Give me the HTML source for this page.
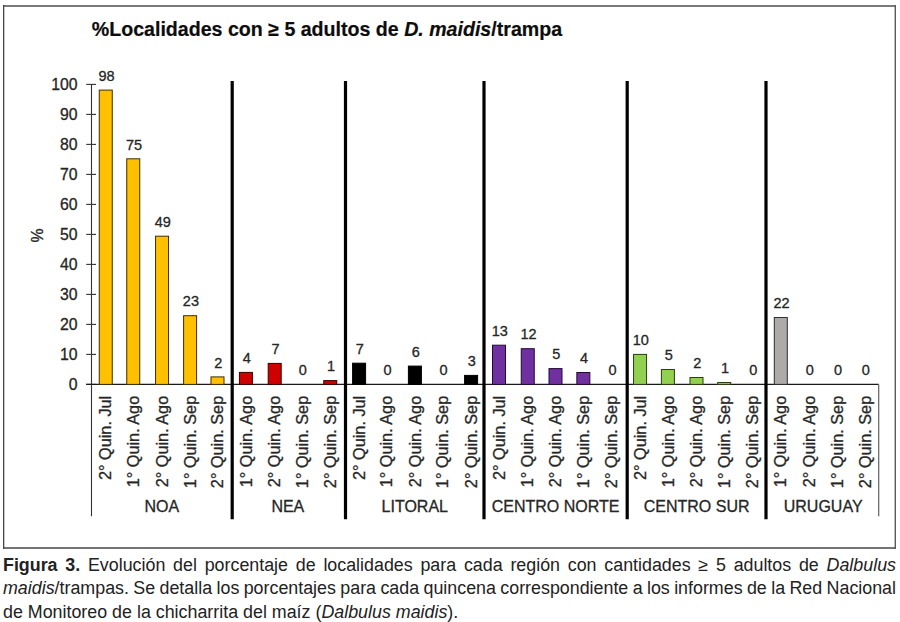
<!DOCTYPE html>
<html><head><meta charset="utf-8"><style>
html,body{margin:0;padding:0;background:#fff;}
body{width:900px;height:622px;position:relative;overflow:hidden;font-family:"Liberation Sans",sans-serif;}
svg{position:absolute;left:0;top:0;}
svg text{font-family:"Liberation Sans",sans-serif;fill:#262626;stroke:#262626;stroke-width:0.3px;}
.title{font-size:19.6px;font-weight:bold;fill:#0d0d0d;stroke:#0d0d0d;stroke-width:0.2px;}
.ylab{font-size:15.8px;}
.dlab{font-size:14.5px;}
.clab{font-size:16px;}
.rlab{font-size:16.25px;}
.cap{position:absolute;left:3px;width:893px;font-size:17.85px;color:#222;white-space:nowrap;}
.cap.j{text-align:justify;text-align-last:justify;}
</style></head><body>
<svg width="900" height="622" viewBox="0 0 900 622">
<line x1="3" y1="6" x2="896" y2="6" stroke="#7a7a7a" stroke-width="2"/>
<line x1="3" y1="548" x2="896" y2="548" stroke="#747474" stroke-width="2"/>
<line x1="3.65" y1="5" x2="3.65" y2="549" stroke="#454545" stroke-width="1.3"/>
<line x1="895.3" y1="5" x2="895.3" y2="549" stroke="#5a5a5a" stroke-width="1.4"/>
<text x="91.8" y="36.2" class="title">%Localidades con ≥ 5 adultos de <tspan font-style="italic">D. maidis</tspan>/trampa</text>
<line x1="91.5" y1="84.4" x2="91.5" y2="516.3" stroke="#333" stroke-width="1.1"/>
<line x1="86.2" y1="384.40" x2="96" y2="384.40" stroke="#333" stroke-width="1.1"/>
<text x="77.5" y="389.50" class="ylab" text-anchor="end">0</text>
<line x1="86.2" y1="354.40" x2="96" y2="354.40" stroke="#333" stroke-width="1.1"/>
<text x="77.5" y="359.50" class="ylab" text-anchor="end">10</text>
<line x1="86.2" y1="324.40" x2="96" y2="324.40" stroke="#333" stroke-width="1.1"/>
<text x="77.5" y="329.50" class="ylab" text-anchor="end">20</text>
<line x1="86.2" y1="294.40" x2="96" y2="294.40" stroke="#333" stroke-width="1.1"/>
<text x="77.5" y="299.50" class="ylab" text-anchor="end">30</text>
<line x1="86.2" y1="264.40" x2="96" y2="264.40" stroke="#333" stroke-width="1.1"/>
<text x="77.5" y="269.50" class="ylab" text-anchor="end">40</text>
<line x1="86.2" y1="234.40" x2="96" y2="234.40" stroke="#333" stroke-width="1.1"/>
<text x="77.5" y="239.50" class="ylab" text-anchor="end">50</text>
<line x1="86.2" y1="204.40" x2="96" y2="204.40" stroke="#333" stroke-width="1.1"/>
<text x="77.5" y="209.50" class="ylab" text-anchor="end">60</text>
<line x1="86.2" y1="174.40" x2="96" y2="174.40" stroke="#333" stroke-width="1.1"/>
<text x="77.5" y="179.50" class="ylab" text-anchor="end">70</text>
<line x1="86.2" y1="144.40" x2="96" y2="144.40" stroke="#333" stroke-width="1.1"/>
<text x="77.5" y="149.50" class="ylab" text-anchor="end">80</text>
<line x1="86.2" y1="114.40" x2="96" y2="114.40" stroke="#333" stroke-width="1.1"/>
<text x="77.5" y="119.50" class="ylab" text-anchor="end">90</text>
<line x1="86.2" y1="84.40" x2="96" y2="84.40" stroke="#333" stroke-width="1.1"/>
<text x="77.5" y="89.50" class="ylab" text-anchor="end">100</text>
<text transform="translate(42.6,235.5) rotate(-90)" class="ylab" text-anchor="middle">%</text>
<line x1="86.2" y1="384.4" x2="878.7" y2="384.4" stroke="#1a1a1a" stroke-width="1.2"/>
<line x1="878.7" y1="384.4" x2="878.7" y2="516.3" stroke="#606060" stroke-width="1.2"/>
<line x1="232.2" y1="81" x2="232.2" y2="519.3" stroke="#000" stroke-width="3.2"/>
<line x1="345.5" y1="81" x2="345.5" y2="519.3" stroke="#000" stroke-width="3.2"/>
<line x1="484.0" y1="81" x2="484.0" y2="519.3" stroke="#000" stroke-width="3.2"/>
<line x1="627.2" y1="81" x2="627.2" y2="519.3" stroke="#000" stroke-width="3.2"/>
<line x1="766.0" y1="81" x2="766.0" y2="519.3" stroke="#000" stroke-width="3.2"/>
<rect x="99.25" y="90.10" width="13.00" height="294.30" fill="#FFC000" stroke="#3d2e00" stroke-width="1"/>
<text x="106.55" y="80.80" class="dlab" text-anchor="middle">98</text>
<text transform="translate(111.35,395.8) rotate(-90)" class="rlab" text-anchor="end">2° Quin. Jul</text>
<rect x="126.75" y="158.80" width="13.00" height="225.60" fill="#FFC000" stroke="#3d2e00" stroke-width="1"/>
<text x="134.05" y="149.50" class="dlab" text-anchor="middle">75</text>
<text transform="translate(138.85,395.8) rotate(-90)" class="rlab" text-anchor="end">1° Quin. Ago</text>
<rect x="155.55" y="236.20" width="13.00" height="148.20" fill="#FFC000" stroke="#3d2e00" stroke-width="1"/>
<text x="162.85" y="226.90" class="dlab" text-anchor="middle">49</text>
<text transform="translate(167.65,395.8) rotate(-90)" class="rlab" text-anchor="end">2° Quin. Ago</text>
<rect x="183.60" y="315.70" width="13.00" height="68.70" fill="#FFC000" stroke="#3d2e00" stroke-width="1"/>
<text x="190.90" y="306.40" class="dlab" text-anchor="middle">23</text>
<text transform="translate(195.70,395.8) rotate(-90)" class="rlab" text-anchor="end">1° Quin. Sep</text>
<rect x="211.00" y="376.90" width="13.00" height="7.50" fill="#FFC000" stroke="#3d2e00" stroke-width="1"/>
<text x="218.30" y="367.60" class="dlab" text-anchor="middle">2</text>
<text transform="translate(223.10,395.8) rotate(-90)" class="rlab" text-anchor="end">2° Quin. Sep</text>
<text x="161.85" y="511.8" class="clab" text-anchor="middle">NOA</text>
<rect x="239.40" y="372.40" width="13.00" height="12.00" fill="#D00000" stroke="#3a0000" stroke-width="1"/>
<text x="246.70" y="363.10" class="dlab" text-anchor="middle">4</text>
<text transform="translate(251.50,395.8) rotate(-90)" class="rlab" text-anchor="end">1° Quin. Ago</text>
<rect x="268.20" y="363.40" width="13.00" height="21.00" fill="#D00000" stroke="#3a0000" stroke-width="1"/>
<text x="275.50" y="354.10" class="dlab" text-anchor="middle">7</text>
<text transform="translate(280.30,395.8) rotate(-90)" class="rlab" text-anchor="end">2° Quin. Ago</text>
<text x="302.70" y="375.10" class="dlab" text-anchor="middle">0</text>
<text transform="translate(307.50,395.8) rotate(-90)" class="rlab" text-anchor="end">1° Quin. Sep</text>
<rect x="323.75" y="380.59" width="13.00" height="3.81" fill="#D00000" stroke="#3a0000" stroke-width="1"/>
<text x="331.05" y="371.29" class="dlab" text-anchor="middle">1</text>
<text transform="translate(335.85,395.8) rotate(-90)" class="rlab" text-anchor="end">2° Quin. Sep</text>
<text x="287.85" y="511.8" class="clab" text-anchor="middle">NEA</text>
<rect x="352.60" y="363.19" width="13.00" height="21.21" fill="#000000" stroke="#000000" stroke-width="1"/>
<text x="359.90" y="353.89" class="dlab" text-anchor="middle">7</text>
<text transform="translate(364.70,395.8) rotate(-90)" class="rlab" text-anchor="end">2° Quin. Jul</text>
<text x="387.60" y="375.10" class="dlab" text-anchor="middle">0</text>
<text transform="translate(392.40,395.8) rotate(-90)" class="rlab" text-anchor="end">1° Quin. Ago</text>
<rect x="408.40" y="366.10" width="13.00" height="18.30" fill="#000000" stroke="#000000" stroke-width="1"/>
<text x="415.70" y="356.80" class="dlab" text-anchor="middle">6</text>
<text transform="translate(420.50,395.8) rotate(-90)" class="rlab" text-anchor="end">2° Quin. Ago</text>
<text x="443.60" y="375.10" class="dlab" text-anchor="middle">0</text>
<text transform="translate(448.40,395.8) rotate(-90)" class="rlab" text-anchor="end">1° Quin. Sep</text>
<rect x="464.60" y="375.40" width="13.00" height="9.00" fill="#000000" stroke="#000000" stroke-width="1"/>
<text x="471.90" y="366.10" class="dlab" text-anchor="middle">3</text>
<text transform="translate(476.70,395.8) rotate(-90)" class="rlab" text-anchor="end">2° Quin. Sep</text>
<text x="414.75" y="511.8" class="clab" text-anchor="middle">LITORAL</text>
<rect x="492.50" y="345.19" width="13.00" height="39.21" fill="#7030A0" stroke="#24083a" stroke-width="1"/>
<text x="499.80" y="335.89" class="dlab" text-anchor="middle">13</text>
<text transform="translate(504.60,395.8) rotate(-90)" class="rlab" text-anchor="end">2° Quin. Jul</text>
<rect x="521.25" y="348.70" width="13.00" height="35.70" fill="#7030A0" stroke="#24083a" stroke-width="1"/>
<text x="528.55" y="339.40" class="dlab" text-anchor="middle">12</text>
<text transform="translate(533.35,395.8) rotate(-90)" class="rlab" text-anchor="end">1° Quin. Ago</text>
<rect x="549.00" y="368.59" width="13.00" height="15.81" fill="#7030A0" stroke="#24083a" stroke-width="1"/>
<text x="556.30" y="359.29" class="dlab" text-anchor="middle">5</text>
<text transform="translate(561.10,395.8) rotate(-90)" class="rlab" text-anchor="end">2° Quin. Ago</text>
<rect x="576.85" y="372.49" width="13.00" height="11.91" fill="#7030A0" stroke="#24083a" stroke-width="1"/>
<text x="584.15" y="363.19" class="dlab" text-anchor="middle">4</text>
<text transform="translate(588.95,395.8) rotate(-90)" class="rlab" text-anchor="end">1° Quin. Sep</text>
<text x="612.50" y="375.10" class="dlab" text-anchor="middle">0</text>
<text transform="translate(617.30,395.8) rotate(-90)" class="rlab" text-anchor="end">2° Quin. Sep</text>
<text x="555.60" y="511.8" class="clab" text-anchor="middle">CENTRO NORTE</text>
<rect x="633.55" y="354.40" width="13.00" height="30.00" fill="#92D050" stroke="#2a3c16" stroke-width="1"/>
<text x="640.85" y="345.10" class="dlab" text-anchor="middle">10</text>
<text transform="translate(645.65,395.8) rotate(-90)" class="rlab" text-anchor="end">2° Quin. Jul</text>
<rect x="661.40" y="369.49" width="13.00" height="14.91" fill="#92D050" stroke="#2a3c16" stroke-width="1"/>
<text x="668.70" y="360.19" class="dlab" text-anchor="middle">5</text>
<text transform="translate(673.50,395.8) rotate(-90)" class="rlab" text-anchor="end">1° Quin. Ago</text>
<rect x="690.00" y="377.50" width="13.00" height="6.90" fill="#92D050" stroke="#2a3c16" stroke-width="1"/>
<text x="697.30" y="368.20" class="dlab" text-anchor="middle">2</text>
<text transform="translate(702.10,395.8) rotate(-90)" class="rlab" text-anchor="end">2° Quin. Ago</text>
<rect x="717.70" y="382.51" width="13.00" height="1.89" fill="#92D050" stroke="#2a3c16" stroke-width="1"/>
<text x="725.00" y="373.21" class="dlab" text-anchor="middle">1</text>
<text transform="translate(729.80,395.8) rotate(-90)" class="rlab" text-anchor="end">1° Quin. Sep</text>
<text x="753.30" y="375.10" class="dlab" text-anchor="middle">0</text>
<text transform="translate(758.10,395.8) rotate(-90)" class="rlab" text-anchor="end">2° Quin. Sep</text>
<text x="696.60" y="511.8" class="clab" text-anchor="middle">CENTRO SUR</text>
<rect x="774.30" y="317.50" width="13.00" height="66.90" fill="#AEAAAA" stroke="#2e2e2e" stroke-width="1"/>
<text x="781.60" y="308.20" class="dlab" text-anchor="middle">22</text>
<text transform="translate(786.40,395.8) rotate(-90)" class="rlab" text-anchor="end">1° Quin. Ago</text>
<text x="809.70" y="375.10" class="dlab" text-anchor="middle">0</text>
<text transform="translate(814.50,395.8) rotate(-90)" class="rlab" text-anchor="end">2° Quin. Ago</text>
<text x="838.10" y="375.10" class="dlab" text-anchor="middle">0</text>
<text transform="translate(842.90,395.8) rotate(-90)" class="rlab" text-anchor="end">1° Quin. Sep</text>
<text x="865.70" y="375.10" class="dlab" text-anchor="middle">0</text>
<text transform="translate(870.50,395.8) rotate(-90)" class="rlab" text-anchor="end">2° Quin. Sep</text>
<text x="823.15" y="511.8" class="clab" text-anchor="middle">URUGUAY</text>
</svg>
<div class="cap j" style="top:555px"><b>Figura 3.</b> Evolución del porcentaje de localidades para cada región con cantidades ≥ 5 adultos de <i>Dalbulus</i></div>
<div class="cap j" style="top:578px;word-spacing:-0.7px"><i>maidis</i>/trampas. Se detalla los porcentajes para cada quincena correspondiente a los informes de la Red Nacional</div>
<div class="cap" style="top:602px">de Monitoreo de la chicharrita del maíz (<i>Dalbulus maidis</i>).</div>
</body></html>
